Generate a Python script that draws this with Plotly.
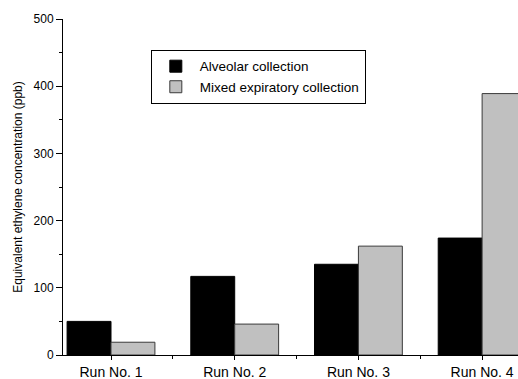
import plotly.graph_objects as go

categories = ["Run No. 1", "Run No. 2", "Run No. 3", "Run No. 4"]
positions = [1, 2, 3, 4]
alveolar = [50, 117, 135, 174]
mixed = [19, 46, 162, 389]
y_ticks = [0, 100, 200, 300, 400, 500]

fig = go.Figure()
fig.add_trace(go.Bar(x=positions, y=alveolar, name="Alveolar collection",
                     marker=dict(color="#000000", line=dict(color="#000000", width=1))))
fig.add_trace(go.Bar(x=positions, y=mixed, name="Mixed expiratory collection",
                     marker=dict(color="#C0C0C0", line=dict(color="#3a3a3a", width=1))))

fig.update_layout(
    width=518, height=379,
    barmode="group", bargap=0.29, bargroupgap=0,
    paper_bgcolor="white", plot_bgcolor="white",
    margin=dict(l=63, r=0, t=19, b=24, autoexpand=False),
    font=dict(family="Liberation Sans, Arial, sans-serif", color="#000000"),
    showlegend=True,
    legend=dict(x=0.193, y=0.908, xanchor="left", yanchor="top",
                bordercolor="#000000", borderwidth=1, bgcolor="white",
                font=dict(size=13.5), tracegroupgap=0, itemwidth=38),
    xaxis=dict(range=[0.612, 4.29], tickmode="array", tickvals=positions,
               ticktext=categories, showline=True, linecolor="#000000", linewidth=1,
               ticks="outside", ticklen=4, tickcolor="#000000", showgrid=False,
               zeroline=False, tickfont=dict(size=14),
               minor=dict(tickmode="array", tickvals=[1.5, 2.5, 3.5], ticks="outside",
                          ticklen=3, tickcolor="#000000")),
    yaxis=dict(range=[0, 500], tickmode="array", tickvals=y_ticks,
               showline=True, linecolor="#000000", linewidth=1,
               ticks="outside", ticklen=6, tickcolor="#000000", showgrid=False,
               zeroline=False, tickfont=dict(size=12),
               minor=dict(dtick=50, ticks="outside", ticklen=3, tickcolor="#000000"),
               title=dict(text="Equivalent ethylene concentration (ppb)",
                          font=dict(size=12), standoff=8)),
)

fig.write_html("out.html", config={"displayModeBar": False},
               post_script="document.body.style.margin='0';document.body.style.overflow='hidden';")
